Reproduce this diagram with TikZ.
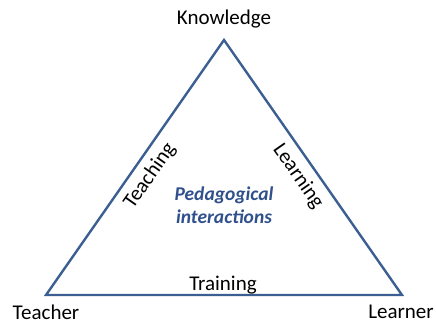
\documentclass[tikz,border=0pt]{standalone}
\usepackage{fontspec}
\setmainfont{Carlito}
\definecolor{edgeblue}{RGB}{60,95,145}
\definecolor{textblue}{RGB}{47,80,140}
\begin{document}
\begin{tikzpicture}[x=1pt,y=-1pt,
  lbl/.style={font=\fontsize{21}{24}\selectfont, inner sep=0pt, text=black},
  edge/.style={draw=edgeblue, line width=2.4pt, line join=miter}]
\useasboundingbox (0,0) rectangle (436,324);
\coordinate (K) at (224,40);
\coordinate (T) at (46,295);
\coordinate (L) at (402,295);
\draw[edge] (K) -- (L) -- (T) -- cycle;
\node[lbl] (kn) at (224,19) {Knowledge};
\node[lbl] (te) at (46,312) {Teacher};
\node[lbl] (le) at (401,312) {Learner};
\node[lbl] (tr) at (223,285) {Training};
\node[lbl, rotate=55] (tc) at (150,176) {Teaching};
\node[lbl, rotate=-55] (ln) at (298,176) {Learning};
\node[lbl, text=textblue, font=\fontsize{19.5}{23}\selectfont\bfseries\itshape, align=center] (pi) at (224,205) {Pedagogical\\interactions};
\end{tikzpicture}
\end{document}
